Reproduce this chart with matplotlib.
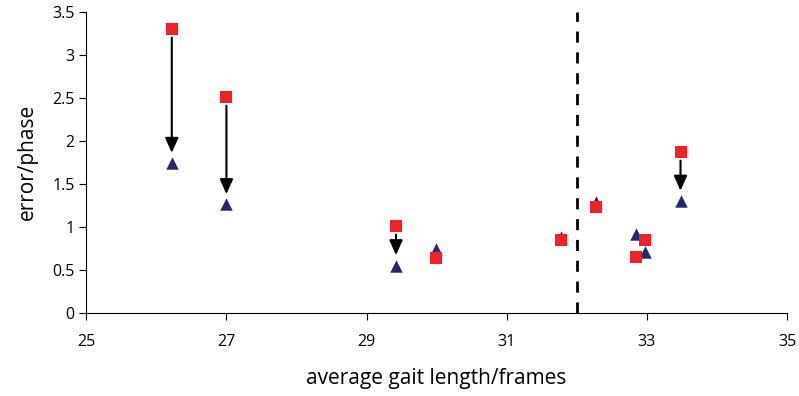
import matplotlib.pyplot as plt

plt.rcParams['font.family'] = ['Open Sans', 'DejaVu Sans']

# gait length per sequence, and error before / after correction
gait_len = [26.22, 27.0, 29.42, 29.99, 31.77, 32.28, 32.85, 32.98, 33.48]
err_before = [3.30, 2.51, 1.01, 0.64, 0.85, 1.23, 0.65, 0.85, 1.87]
err_after = [1.74, 1.26, 0.55, 0.74, 0.88, 1.29, 0.92, 0.71, 1.30]

# sequences where the improvement is marked with an arrow
arrow_idx = [0, 1, 2, 8]
threshold = 32

fig, ax = plt.subplots(figsize=(7.99, 3.96), dpi=100)
fig.subplots_adjust(left=0.108, right=0.985, bottom=0.21, top=0.97)

ax.scatter(gait_len, err_after, marker='^', s=80, color='#262673', zorder=3, linewidths=0)
ax.scatter(gait_len, err_before, marker='s', s=85, color='#ee2228', zorder=4, linewidths=0)

for i in arrow_idx:
    x = gait_len[i]
    ax.annotate('', xy=(x, err_after[i] + 0.12), xytext=(x, err_before[i] - 0.1),
                arrowprops=dict(arrowstyle='-|>,head_width=0.4,head_length=0.9',
                                color='black', lw=1.5, shrinkA=0, shrinkB=0))

ax.axvline(threshold, color='black', ls=(0, (4, 3.5)), lw=2)

ax.set_xlim(25, 35)
ax.set_ylim(0, 3.5)
ax.set_xticks([25, 27, 29, 31, 33, 35])
ax.set_yticks([0, 0.5, 1, 1.5, 2, 2.5, 3, 3.5])
ax.set_yticklabels(['0', '0.5', '1', '1.5', '2', '2.5', '3', '3.5'])
ax.tick_params(labelsize=11.5, length=5, width=0.8)
ax.tick_params(axis='x', pad=10)

for side in ['top', 'right']:
    ax.spines[side].set_visible(False)

ax.set_xlabel('average gait length/frames', fontsize=15, labelpad=13)
ax.set_ylabel('error/phase', fontsize=15, labelpad=10)

plt.savefig('out.png')
